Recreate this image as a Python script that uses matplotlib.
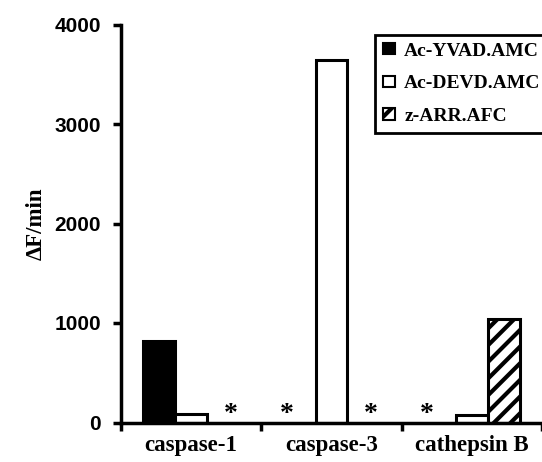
import matplotlib
matplotlib.use("Agg")
import matplotlib.pyplot as plt
from matplotlib.patches import Patch
import numpy as np

categories = ['caspase-1', 'caspase-3', 'cathepsin B']
series_names = ['Ac-YVAD.AMC', 'Ac-DEVD.AMC', 'z-ARR.AFC']
ac_yvad = [820, 0, 0]
ac_devd = [90, 3640, 80]
z_arr = [0, 0, 1040]
y_ticks = [0, 1000, 2000, 3000, 4000]

plt.rcParams['hatch.linewidth'] = 3.0
plt.rcParams['hatch.color'] = 'black'

W, H = 542, 462
fig = plt.figure(figsize=(W / 100, H / 100), dpi=100)
ax = fig.add_axes([121 / W, 39.5 / H, (W - 121) / W, 398 / H])

serif = 'Liberation Serif'
sans = 'Liberation Sans'

x = np.arange(len(categories))
bw = 0.227
series = [ac_yvad, ac_devd, z_arr]
styles = [dict(facecolor='black', edgecolor='black', hatch=None),
          dict(facecolor='white', edgecolor='black', hatch=None),
          dict(facecolor='white', edgecolor='black', hatch='//')]
offsets = [-bw, 0, bw]
star_off = [-0.32, 0, 0.28]

for vals, st, off, so in zip(series, styles, offsets, star_off):
    for xi, v in zip(x, vals):
        if v > 0:
            ax.bar(xi + off, v, width=bw, linewidth=2.2, **st, zorder=2)
        else:
            ax.text(xi + so, 20, '*', ha='center', va='baseline',
                    fontsize=20, family=serif, fontweight='bold')

ax.set_xlim(-0.5, -0.5 + (W - 121) / 141)
ax.set_ylim(0, 4000)
ax.set_yticks(y_ticks)
ax.set_yticklabels([str(t) for t in y_ticks], family=sans, fontweight='bold', fontsize=15)

ax.set_xticks([-0.5, 0.5, 1.5, 2.5])
ax.set_xticklabels([])
ax.set_xticks(x, minor=True)
ax.set_xticklabels(categories, minor=True, family=serif, fontweight='bold', fontsize=16.5)
ax.tick_params(axis='x', which='minor', length=0, pad=9)
ax.tick_params(axis='x', which='major', length=5.5, width=2.5, direction='out')
ax.tick_params(axis='y', which='major', length=5.5, width=2.5, direction='out', pad=9)

for s in ['top', 'right']:
    ax.spines[s].set_visible(False)
for s in ['left', 'bottom']:
    ax.spines[s].set_linewidth(2.5)

ax.set_ylabel('ΔF/min', family=serif, fontweight='bold', fontsize=16.5)
ax.yaxis.set_label_coords(-0.176, 0.5)

handles = [Patch(facecolor=st['facecolor'], edgecolor='black', hatch=st['hatch'], linewidth=1.5)
           for st in styles]
leg = fig.legend(handles, series_names, loc='upper left',
                 bbox_to_anchor=(375 / W, 1 - 35 / H), borderaxespad=0,
                 prop={'family': serif, 'weight': 'bold', 'size': 14},
                 handlelength=0.65, handleheight=0.5, handletextpad=0.45,
                 labelspacing=0.8, borderpad=0.4, fancybox=False, framealpha=1,
                 edgecolor='black')
leg.get_frame().set_linewidth(2.0)

fig.savefig('out.png', dpi=100)
